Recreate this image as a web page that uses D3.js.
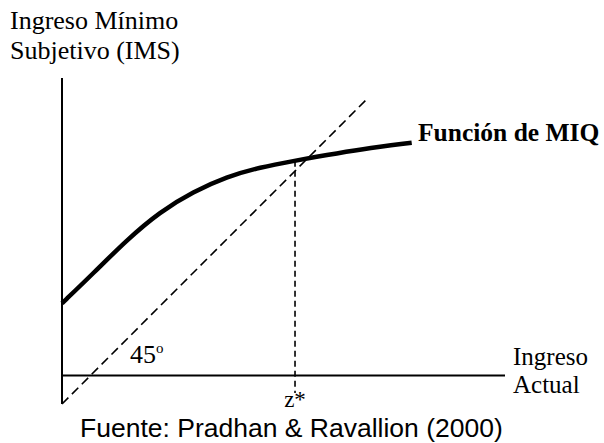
<!DOCTYPE html>
<html><head><meta charset="utf-8">
<script src="https://cdn.jsdelivr.net/npm/d3@7"></script>
<style>body{margin:0;background:#fff}svg{display:block}</style>
</head><body>
<svg id="c" width="604" height="443"></svg>
<script>
// schematic data (arbitrary units, equal scale on both axes)
const curveX = [0, 7.07, 14.6, 22.12, 29.64, 37.18, 44.70, 52.60, 59.75, 67.27, 78.94];
const curveY = [22.73, 29.50, 37.02, 43.41, 47.92, 51.31, 53.43, 54.92, 56.21, 57.49, 58.98];
const diagX = [0, 68.6];
const diagY = [0, 68.6];
const zStar = 52.6;
const zTop = 54.9;
const zBottom = 2.5;
const axisY = 6.43;   // level of horizontal axis
const xMax = 100;
const yTop = 73.6;
const yLabel = ["Ingreso Mínimo", "Subjetivo (IMS)"];
const xLabel = ["Ingreso", "Actual"];
const curveLabel = "Función de MIQ";
const angleLabel = ["45", "o"];
const zLabel = "z*";
const source = "Fuente: Pradhan & Ravallion (2000)";

const svg = d3.select("#c");
const x = d3.scaleLinear().domain([0, 100]).range([62, 505]);
const y = d3.scaleLinear().domain([0, 100]).range([404, 404 - 443]);
const serif = "'Liberation Serif','Times New Roman',serif";

// axes
svg.append("line").attr("x1", x(0)).attr("x2", x(0)).attr("y1", y(yTop)).attr("y2", y(0))
  .attr("stroke", "#000").attr("stroke-width", 2);
svg.append("line").attr("x1", x(0)).attr("x2", x(xMax)).attr("y1", y(axisY)).attr("y2", y(axisY))
  .attr("stroke", "#000").attr("stroke-width", 2);

// 45 degree line
svg.append("line").attr("x1", x(diagX[0])).attr("y1", y(diagY[0])).attr("x2", x(diagX[1])).attr("y2", y(diagY[1]))
  .attr("stroke", "#000").attr("stroke-width", 1.6).attr("stroke-dasharray", "9,5");

// z* vertical
svg.append("line").attr("x1", x(zStar)).attr("x2", x(zStar)).attr("y1", y(zTop)).attr("y2", y(zBottom))
  .attr("stroke", "#000").attr("stroke-width", 1.6).attr("stroke-dasharray", "6,4");

// curve
const pts = curveX.map((d, i) => [d, curveY[i]]);
svg.append("path").datum(pts)
  .attr("d", d3.line().x(d => x(d[0])).y(d => y(d[1])).curve(d3.curveBasis))
  .attr("fill", "none").attr("stroke", "#000").attr("stroke-width", 4.5);

// texts
const t = (txt, px, py, opts = {}) => svg.append("text").attr("x", px).attr("y", py).text(txt)
  .attr("font-family", opts.family || serif).attr("font-size", opts.size || 25)
  .attr("font-weight", opts.weight || "normal").attr("text-anchor", opts.anchor || "start").attr("fill", "#000");

t(yLabel[0], 10, 29, {size: 26});
t(yLabel[1], 10, 59, {size: 26});
t(xLabel[0], 513, 365);
t(xLabel[1], 513, 393);
t(curveLabel, 418, 141, {weight: "bold", size: 25.5});
const a = t(angleLabel[0], 130, 363, {size: 26});
a.append("tspan").attr("font-size", 15).attr("dy", -10).text(angleLabel[1]);
t(zLabel, x(zStar), 406.5, {anchor: "middle", size: 23});
t(source, 80, 437.3, {family: "'Liberation Sans',Arial,sans-serif", size: 26.5});
</script>
</body></html>
